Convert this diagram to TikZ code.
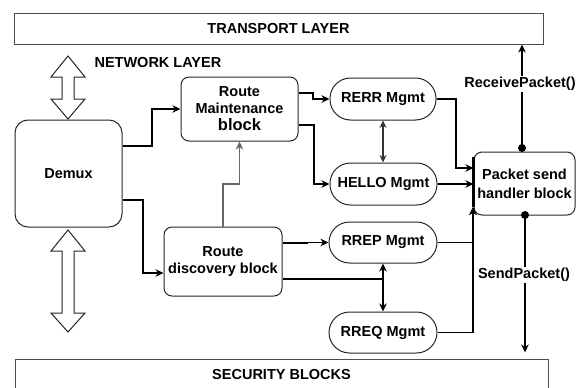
\documentclass[tikz,border=0pt]{standalone}
\usepackage{fontspec}
\setmainfont{Liberation Sans}
\usetikzlibrary{arrows.meta,calc}
\begin{document}
\begin{tikzpicture}[x=1pt,y=-1pt,
  font=\fontsize{14.5}{17}\selectfont\bfseries,
  box/.style={draw=black!85,line width=1pt,inner sep=0pt,align=center},
  rbox/.style={box,rounded corners=8pt},
  pill/.style={box,rounded corners=20.5pt,minimum width=107pt,minimum height=42pt},
  tipA/.style={-{Stealth[length=8pt,width=7.5pt,inset=2.5pt]}},
  tipB/.style={{Stealth[length=7.5pt,width=7pt,inset=2.5pt]}-{Stealth[length=7.5pt,width=7pt,inset=2.5pt]}},
  conn/.style={tipA,line width=1.4pt,black},
  bold conn/.style={tipA,line width=2pt,black},
  thin conn/.style={tipA,line width=1.1pt,black},
  gray conn/.style={tipA,line width=1.2pt,black!60},
  label/.style={fill=white,inner sep=1.5pt},
  hollow/.style={draw=black!85,line width=1pt,fill=white,line join=miter},
  dot/.style={circle,fill=black,inner sep=0pt,minimum size=8pt}
]
\useasboundingbox (0,0) rectangle (579,388);

% layers
\node[box,draw=black!70,minimum width=529pt,minimum height=31pt] (transport) at (278.5,28.5) {TRANSPORT LAYER};
\node[box,draw=black!70,minimum width=533pt,minimum height=32pt] (security) at (281.5,375) {SECURITY BLOCKS};

% hollow double arrows
\draw[hollow] (68,56) -- (85,77) -- (74,77) -- (74,99) -- (85,99) -- (68,119) -- (51,99) -- (62,99) -- (62,77) -- (51,77) -- cycle;
\node[anchor=west] (netlayer) at (91,63) {NETWORK LAYER};
\draw[hollow] (68,230) -- (85,251) -- (74,251) -- (74,313) -- (85,313) -- (68,332) -- (51,313) -- (62,313) -- (62,251) -- (51,251) -- cycle;

% blocks
\node[rbox,rounded corners=13pt,minimum width=107pt,minimum height=107pt] (demux) at (68.5,173.5) {Demux};
\node[rbox,minimum width=117pt,minimum height=64pt] (rm) at (239.5,109) {Route\\Maintenance\\{\fontsize{16.5}{17}\selectfont block}};
\node[rbox,minimum width=118pt,minimum height=69pt] (rd) at (223,261.5) {Route\\discovery block};
\node[pill,minimum width=106pt] (rerr) at (383,99) {RERR Mgmt};
\node[pill] (hello) at (383.5,184) {HELLO Mgmt};
\node[pill,minimum width=108pt,minimum height=41pt] (rrep) at (383,242.5) {RREP Mgmt};
\node[pill,minimum width=108pt,minimum height=41pt] (rreq) at (383,332.5) {RREQ Mgmt};
\node[rbox,minimum width=101pt,minimum height=63pt,font=\fontsize{14.5}{19}\selectfont\bfseries] (handler) at (524.5,183.5) {Packet send\\handler block};

% connectors from Demux
\draw[bold conn] (demux.east |- 0,146) -- (152,146) |- (rm.west);
\draw[bold conn] (demux.east |- 0,200) -- (143,200) |- (rd.west |- 0,273);

% route maintenance
\draw[conn] (rm.east |- 0,93) -- (313,93) |- (rerr.west);
\draw[conn] (rm.east |- 0,125) -- (314,125) |- (hello.west);
\draw[gray conn] (rd.north) |- (rm.south |- 0,184) -- (rm.south);

% route discovery
\draw[conn] (rd.east |- 0,243) -- (307,243) |- (rrep.west);
\draw[bold conn] (rd.east |- 0,279) -| (rreq.north);
\draw[thin conn] (rreq.north |- 0,279) -- (rrep.south);

% mgmt mutual
\draw[tipB,line width=1.1pt,black!80] (rerr.south) -- (rerr.south |- hello.north);

% to handler
\coordinate (hin) at (473,207);
\draw[thin conn] (rerr.east) -- (456,99) |- (handler.west |- 0,168);
\draw[conn] (hello.east) -- (handler.west |- hello.east);
\draw[thin conn] (rrep.east) -| (hin);
\draw[thin conn] (rreq.east) -| (hin);
\draw[line width=3pt,black] (473,157) -- (473,207);

% handler to layers
\draw[thin conn] (handler.north -| 522,0) -- (transport.south -| 522,0);
\node[dot] (dtop) at (522,148) {};
\node[label] (recv) at (520,84) {ReceivePacket()};
\draw[thin conn] (handler.south -| 525,0) -- ([yshift=6pt]security.north -| 525,0);
\node[dot] (dbot) at (525,215) {};
\node[label] (send) at (524,275) {SendPacket()};
\end{tikzpicture}
\end{document}
